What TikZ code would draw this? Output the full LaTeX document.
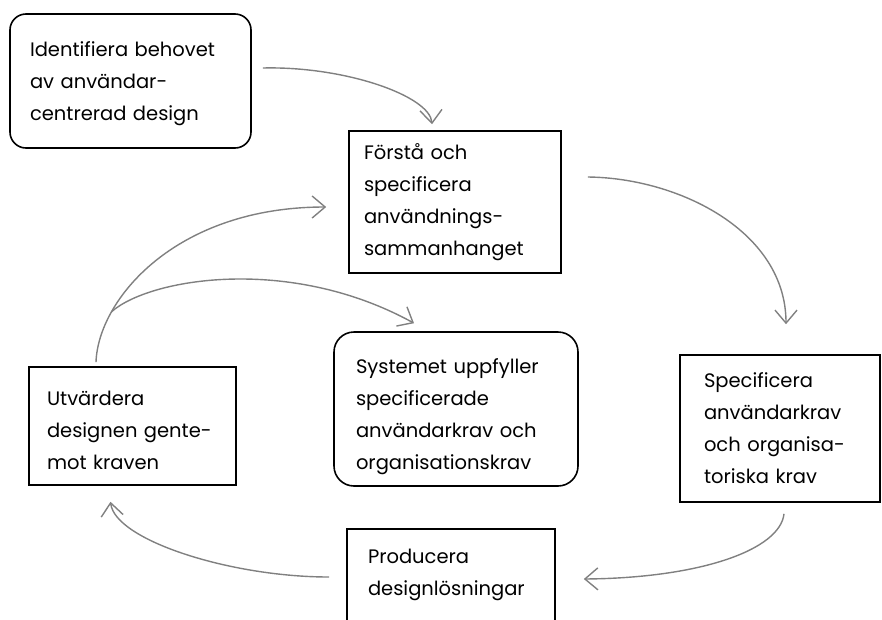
\documentclass[tikz,border=0pt]{standalone}
\usepackage{fontspec}
\setmainfont{Poppins}
\usepackage{tikz}
\usetikzlibrary{arrows.meta, positioning}

\begin{document}
\begin{tikzpicture}[
  x=1pt, y=-1pt,
  box/.style={rectangle, draw=black, line width=1.6pt, align=left, inner ysep=0pt,
              font=\fontsize{19.5}{32}\selectfont},
  rbox/.style={box, rounded corners=16pt},
  arrow/.style={-{Straight Barb[length=13pt, width=22pt]}, line width=1.4pt, draw=black!50},
]
\clip (0, 0) rectangle (882, 619);
\node[rbox, text width=201pt, inner xsep=20pt, minimum height=134pt] (ident)   at (130.5, 81)  {\rule{0pt}{20.5pt}Identifiera behovet\\av användar-\\centrerad design};
\node[box,  text width=182pt, inner xsep=15pt, minimum height=142pt] (context) at (455, 202)   {Förstå och\\specificera\\användnings-\\sammanhanget};
\node[rbox, text width=200pt, inner xsep=22pt, minimum height=154pt, rounded corners=20pt] (fulfil) at (456, 409) {\rule{0pt}{30pt}Systemet uppfyller\\specificerade\\användarkrav och\\organisationskrav};
\node[box,  text width=152pt, inner xsep=24pt, minimum height=147pt] (reqs)    at (780, 428.5) {Specificera\\användarkrav\\och organisa-\\toriska krav};
\node[box,  text width=166pt, inner xsep=21pt, minimum height=92pt]  (produce) at (451, 575)   {Producera\\designlösningar};
\node[box,  text width=171pt, inner xsep=18pt, minimum height=118pt] (evaluate) at (132.5, 426) {\rule{0pt}{22.5pt}Utvärdera\\designen gente-\\mot kraven};
% cycle
\draw[arrow] ([shift={(11,-13)}]ident.east) .. controls (345, 66) and (430, 96) .. ([shift={(-23,-6)}]context.north);
\draw[arrow] ([shift={(26,-25)}]context.east) .. controls (680, 178) and (786, 232) .. ([shift={(6,-30)}]reqs.north);
\draw[arrow] ([shift={(4,11)}]reqs.south) .. controls (780, 550) and (700, 578) .. ([shift={(28,4)}]produce.east);
\draw[arrow] ([shift={(-17,2)}]produce.west) .. controls (230, 577) and (115, 540) .. ([shift={(-22,16)}]evaluate.south);
\draw[arrow] ([shift={(-36.5,-4)}]evaluate.north) .. controls (98, 300) and (175, 207) ..
  coordinate[pos=0.25] (fork) ([shift={(-22,5)}]context.west);
\draw[arrow] (fork) .. controls (150, 278) and (290, 255) .. ([shift={(-42,-8)}]fulfil.north);
\end{tikzpicture}
\end{document}
